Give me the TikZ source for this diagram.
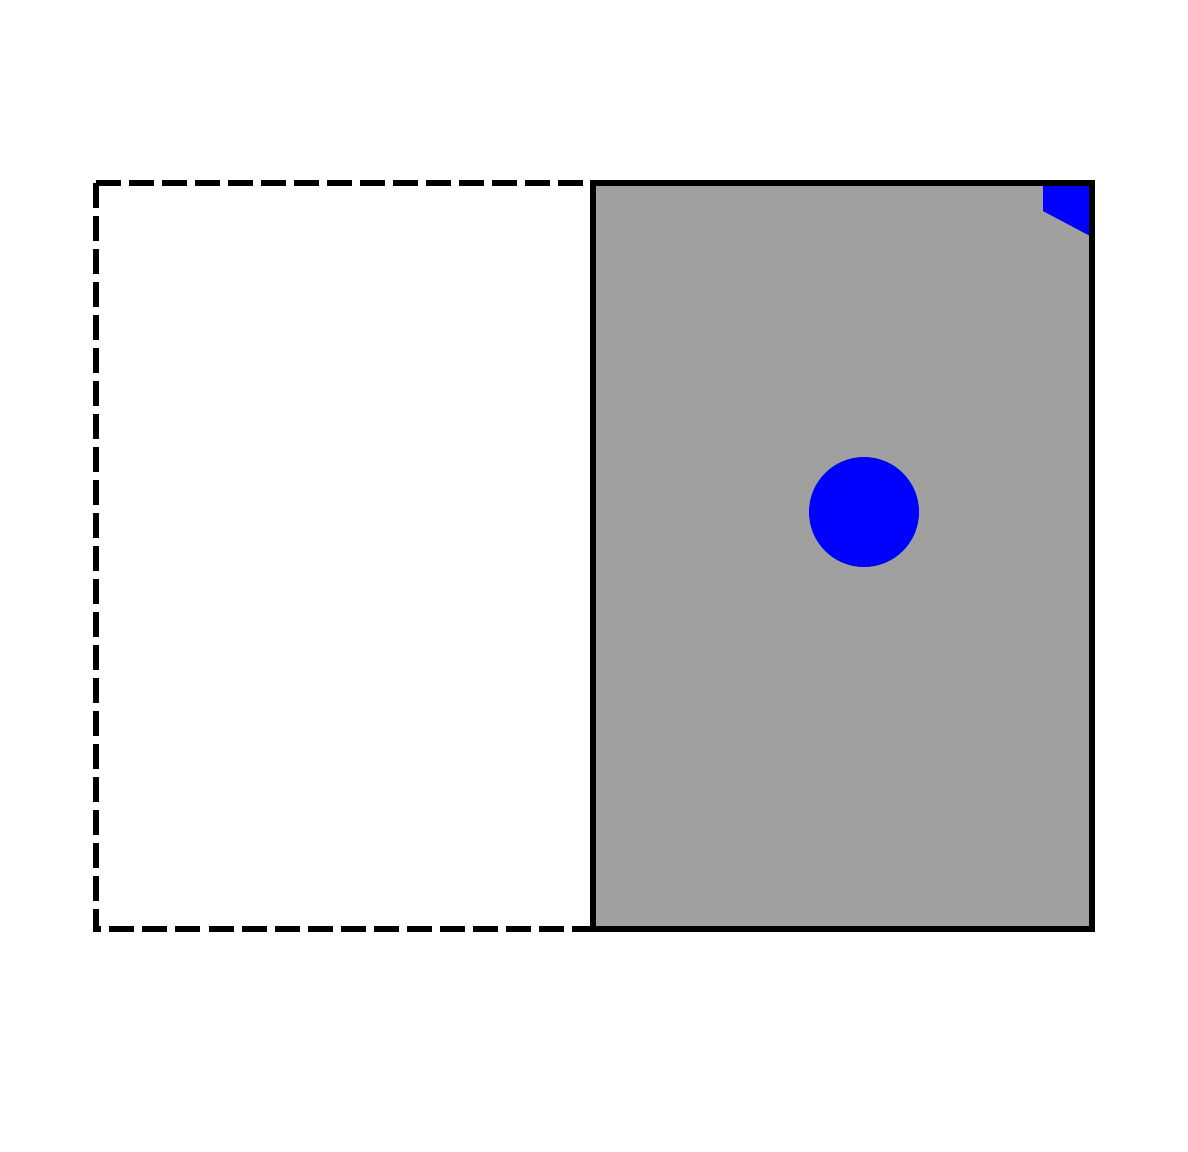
\documentclass[tikz,border=0pt]{standalone}
\definecolor{panelgray}{HTML}{A0A0A0}
\tikzset{
  outline/.style={line width=1.7pt, draw=black},
  dashedbox/.style={line width=1.7pt, draw=black, dash pattern=on 0.25cm off 0.08cm},
  bluefill/.style={fill=blue, draw=none}
}
\begin{document}
\begin{tikzpicture}[x=0.01cm, y=-0.01cm]
\useasboundingbox (0,0) rectangle (1188,1151);
\coordinate (dTL) at (96,183);
\coordinate (dBR) at (593,929);
\coordinate (gTL) at (593,183);
\coordinate (gBR) at (1092,929);
\draw[dashedbox] (96,183) -- (593,183) (96,183) -- (96,929) -- (593,929);
\fill[panelgray] (gTL) rectangle (gBR);
\fill[bluefill] (1043,183) -- (1092,183) -- (1092,237) -- (1043,211) -- cycle;
\fill[bluefill] (864,512) circle (55);
\draw[outline] (gTL) rectangle (gBR);
\end{tikzpicture}
\end{document}
